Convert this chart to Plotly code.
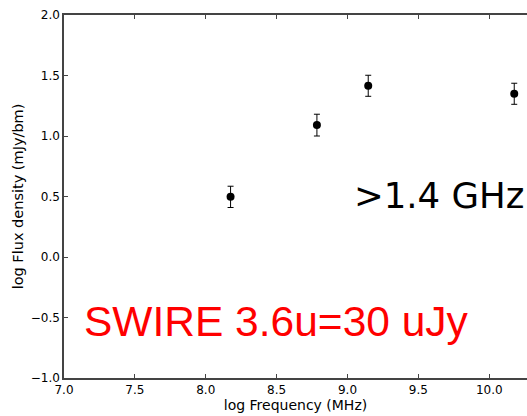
import plotly.graph_objects as go

# Data (log frequency in MHz, log flux density in mJy/bm)
log_freq = [8.175, 8.784, 9.146, 10.176]
log_flux = [0.497, 1.090, 1.415, 1.349]
flux_err = [0.088, 0.090, 0.087, 0.087]

x_ticks = [7.0, 7.5, 8.0, 8.5, 9.0, 9.5, 10.0]
y_ticks = [-1.0, -0.5, 0.0, 0.5, 1.0, 1.5, 2.0]

fig = go.Figure()
fig.add_trace(go.Scatter(
    x=log_freq, y=log_flux, mode="markers",
    marker=dict(color="black", size=8),
    error_y=dict(type="data", array=flux_err, visible=True,
                 color="black", thickness=1, width=3),
    showlegend=False, cliponaxis=False,
))

axis_font = dict(family="DejaVu Sans", size=12, color="black")
line_col = "#444444"

fig.update_layout(
    width=527, height=416,
    margin=dict(l=64, r=0, t=15, b=38),
    paper_bgcolor="white", plot_bgcolor="white",
    xaxis=dict(
        range=[7.0, 10.266], tickvals=x_ticks,
        ticktext=[f"{v:.1f}" for v in x_ticks],
        showgrid=False, zeroline=False,
        showline=True, linecolor=line_col, linewidth=1.5,
        mirror="ticks", ticks="inside", ticklen=4, tickcolor=line_col,
        tickfont=axis_font,
        title=dict(text="log Frequency (MHz)",
                   font=dict(family="DejaVu Sans", size=14, color="black"),
                   standoff=2),
    ),
    yaxis=dict(
        range=[-1.0, 2.0], tickvals=y_ticks,
        ticktext=[f"{v:.1f}".replace("-", "\u2212") for v in y_ticks],
        showgrid=False, zeroline=False,
        showline=True, linecolor=line_col, linewidth=1.5,
        mirror=False, ticks="inside", ticklen=4, tickcolor=line_col,
        tickfont=axis_font,
        title=dict(text="log Flux density (mJy/bm)",
                   font=dict(family="DejaVu Sans", size=14.5, color="black"),
                   standoff=4),
    ),
    annotations=[
        dict(text=">1.4 GHz", xref="paper", yref="paper",
             x=0.621, y=0.504, xanchor="left", yanchor="middle",
             showarrow=False,
             font=dict(family="DejaVu Sans", size=35.5, color="black")),
        dict(text="SWIRE 3.6u=30 uJy", xref="paper", yref="paper",
             x=0.038, y=0.157, xanchor="left", yanchor="middle",
             showarrow=False,
             font=dict(family="Liberation Sans", size=42.5, color="#ff0000")),
    ],
)

fig.write_html("out.html")
